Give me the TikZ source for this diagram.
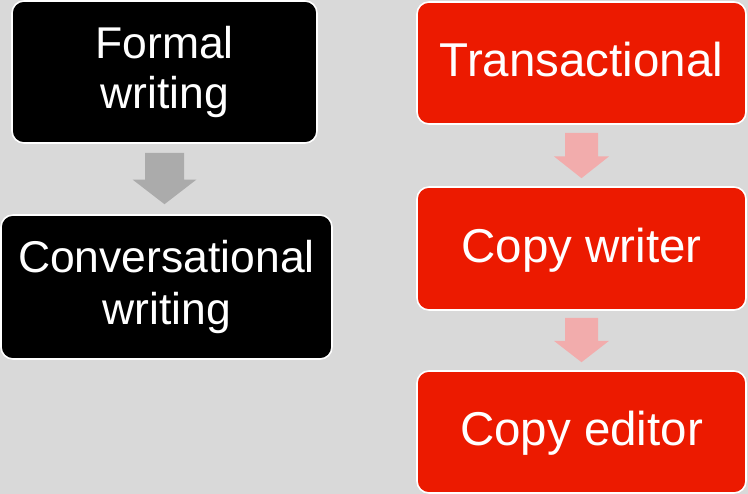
\documentclass[tikz,border=0pt]{standalone}
\usepackage{fontspec}
\setmainfont{Liberation Sans}
\usetikzlibrary{calc}
\definecolor{bgcol}{HTML}{D9D9D9}
\definecolor{boxred}{HTML}{EC1A00}
\definecolor{arrowpink}{HTML}{F2ACAC}
\definecolor{arrowgrey}{HTML}{ABABAB}
\tikzset{
  card/.style={rounded corners=12pt, draw=white, line width=1.6pt,
    text=white, align=center, inner sep=0pt},
  darkcard/.style={card, fill=black},
  redcard/.style={card, fill=boxred, minimum width=329pt,
    font=\fontsize{47.5}{52}\selectfont,
    text height=38pt, text depth=10pt},
}
% block arrow pointing down from node #2 to node #3
% #4 = shaft half-width, #5 = head half-width, #6 = gap at start, #7 = gap at end
\newcommand\blockarrow[7][]{%
  \fill[#1] let \p1=($(#2.south)+(0,#6)$), \p2=($(#3.north)+(0,-#7)$),
    \p3=($(\p1)!0.52!(\x1,\y2)$) in
    (\x1-#4,\y1) -- (\x1+#4,\y1) -- (\x1+#4,\y3) -- (\x1+#5,\y3)
    -- (\x1,\y2) -- (\x1-#5,\y3) -- (\x1-#4,\y3) -- cycle;
}
\begin{document}
\begin{tikzpicture}[x=1pt, y=-1pt]
  \fill[bgcol] (0,0) rectangle (748,494);
  \useasboundingbox (0,0) rectangle (748,494);

  % left column
  \node[darkcard, minimum width=305pt, minimum height=142pt,
    font=\fontsize{44.5}{50}\selectfont] (formal) at (164.5,72) {Formal\\writing};
  \node[darkcard, minimum width=331pt, minimum height=144pt,
    font=\fontsize{44.5}{52}\selectfont] (conv) at (166.5,287) {Conversational\\writing};

  % right column
  \node[redcard, minimum height=122pt] (trans) at (581.5,63) {Transactional};
  \node[redcard, minimum height=123pt] (writer) at (581.5,248.5) {Copy writer};
  \node[redcard, minimum height=122pt] (editor) at (581.5,432) {Copy editor};

  % connectors
  \blockarrow[arrowgrey]{formal}{conv}{19.5pt}{32pt}{9}{10}
  \blockarrow[arrowpink]{trans}{writer}{16.5pt}{27.5pt}{8}{8}
  \blockarrow[arrowpink]{writer}{editor}{16.5pt}{27.5pt}{7}{8}
\end{tikzpicture}
\end{document}
